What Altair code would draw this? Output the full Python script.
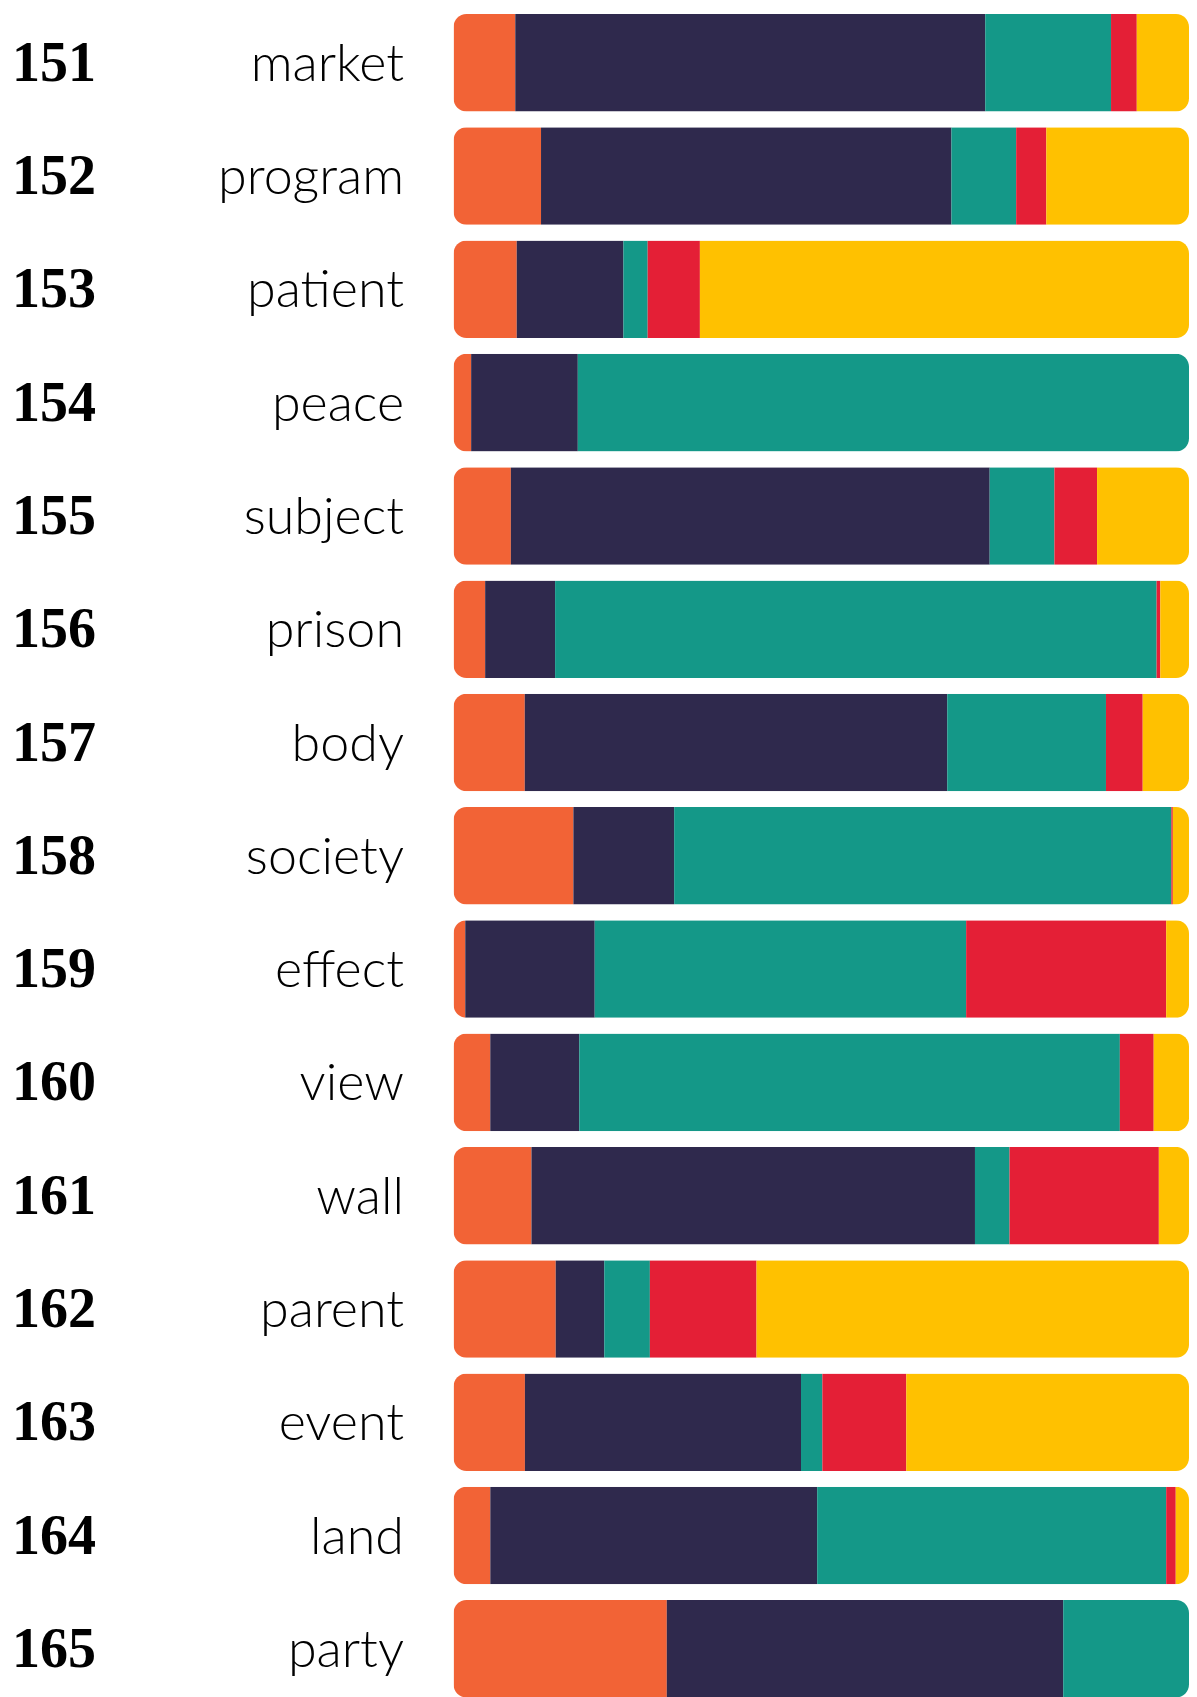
import altair as alt
import pandas as pd

ranks = [151, 152, 153, 154, 155, 156, 157, 158, 159, 160, 161, 162, 163, 164, 165]
words = ["market", "program", "patient", "peace", "subject", "prison", "body", "society",
         "effect", "view", "wall", "parent", "event", "land", "party"]

series = ["s1", "s2", "s3", "s4", "s5"]
colors = ["#F26336", "#2F294D", "#149888", "#E41F36", "#FFC100"]

s1 = [8.4, 11.9, 8.6, 2.4, 7.8, 4.3, 9.7, 16.3, 1.6, 5.0, 10.6, 13.9, 9.7, 5.0, 29.0]
s2 = [63.9, 55.8, 14.5, 14.5, 65.1, 9.5, 57.5, 13.7, 17.6, 12.1, 60.3, 6.6, 37.5, 44.4, 53.9]
s3 = [17.1, 8.8, 3.3, 83.1, 8.8, 81.7, 21.6, 67.6, 50.5, 73.5, 4.7, 6.2, 2.9, 47.4, 17.1]
s4 = [3.5, 4.1, 7.1, 0.0, 5.8, 0.5, 5.0, 0.2, 27.2, 4.6, 20.3, 14.5, 11.4, 1.3, 0.0]
s5 = [7.1, 19.4, 66.5, 0.0, 12.5, 3.9, 6.3, 2.2, 3.1, 4.8, 4.1, 58.8, 38.4, 1.8, 0.0]

rows = []
for i, w in enumerate(words):
    for k, (name, vals) in enumerate(zip(series, [s1, s2, s3, s4, s5])):
        rows.append({"word": w, "series": name, "order": k, "value": vals[i]})
df = pd.DataFrame(rows)

labels = pd.DataFrame({"word": words, "rank": [str(r) for r in ranks]})

yscale = alt.Scale(domain=words, range=[6, 1689.6], paddingInner=0.139, paddingOuter=0)

bars = alt.Chart(df).mark_bar(cornerRadius=13).encode(
    y=alt.Y("word:N", sort=words, scale=yscale, axis=None),
    x=alt.X("value:Q", stack="normalize", axis=None,
            scale=alt.Scale(range=[445.5, 1181], nice=False)),
    color=alt.Color("series:N", scale=alt.Scale(domain=series, range=colors), legend=None),
    order=alt.Order("order:Q", sort="ascending"),
)

nums = alt.Chart(labels).mark_text(
    align="left", baseline="alphabetic", dy=18, font="Liberation Serif",
    fontWeight="bold", fontSize=56, color="#000000"
).encode(
    y=alt.Y("word:N", sort=words, scale=yscale, axis=None),
    x=alt.value(4),
    text="rank:N",
)

wordtxt = alt.Chart(labels).mark_text(
    align="right", baseline="alphabetic", dy=18, font="Lato",
    fontWeight=300, fontSize=52, color="#000000"
).encode(
    y=alt.Y("word:N", sort=words, scale=yscale, axis=None),
    x=alt.value(396),
    text="word:N",
)

chart = alt.layer(bars, nums, wordtxt).properties(
    width=1181, height=1697, padding=0
).configure(background="#ffffff").configure_view(stroke=None)

chart.save("out.html", embed_options={"renderer": "svg", "actions": False})
